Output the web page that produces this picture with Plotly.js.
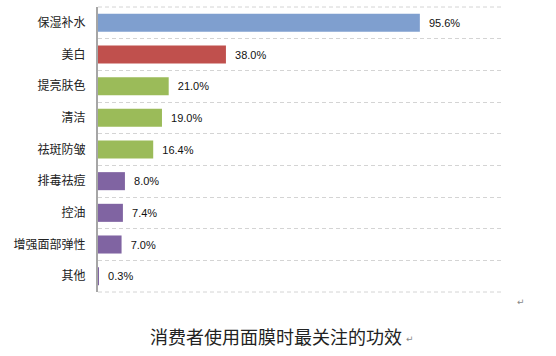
<!DOCTYPE html>
<html>
<head>
<meta charset="utf-8">
<script src="https://cdn.plot.ly/plotly-3.0.1.min.js"></script>
<style>
html,body{margin:0;padding:0;background:#fff;}
#chart{width:556px;height:356px;}
</style>
</head>
<body>
<div id="chart"></div>
<script>
const categories = ["保湿补水","美白","提亮肤色","清洁","祛斑防皱","排毒祛痘","控油","增强面部弹性","其他"];
const values = [95.6, 38.0, 21.0, 19.0, 16.4, 8.0, 7.4, 7.0, 0.3];
const labels = ["95.6%","38.0%","21.0%","19.0%","16.4%","8.0%","7.4%","7.0%","0.3%"];
const barColors = ["#7F9FCF","#C0504D","#9BBB59","#9BBB59","#9BBB59","#8064A2","#8064A2","#8064A2","#8064A2"];
const titleText = "消费者使用面膜时最关注的功效";

const trace = {
  type: "bar",
  orientation: "h",
  y: categories,
  x: values,
  text: labels.map(t => "\u00a0\u00a0" + t),
  textposition: "outside",
  cliponaxis: false,
  textfont: {family: "Liberation Sans, Arial, sans-serif", size: 11, color: "#111"},
  marker: {color: barColors},
  hoverinfo: "skip"
};

const gridDash = "4px,3px";
const layout = {
  width: 556, height: 356,
  margin: {l: 98, r: 54, t: 7, b: 64},
  paper_bgcolor: "#fff",
  plot_bgcolor: "#fff",
  bargap: 0.43,
  showlegend: false,
  xaxis: {
    range: [0, 120],
    showgrid: false, zeroline: false, showticklabels: false, showline: false, ticks: ""
  },
  yaxis: {
    type: "category",
    autorange: "reversed",
    tickson: "boundaries",
    showgrid: true,
    gridcolor: "#d4d4d4",
    griddash: gridDash,
    gridwidth: 1,
    showline: true,
    linecolor: "#a6a6a6",
    linewidth: 2,
    ticks: "",
    ticklabelstandoff: 8,
    tickfont: {family: "Noto Sans CJK SC, sans-serif", size: 12, color: "#222"}
  },
  shapes: [
    {type: "line", xref: "paper", yref: "paper", x0: 0, x1: 1, y0: 1, y1: 1,
     line: {color: "#d4d4d4", width: 1, dash: gridDash}, layer: "below"},
    {type: "line", xref: "paper", yref: "paper", x0: 0, x1: 1, y0: 0, y1: 0,
     line: {color: "#d4d4d4", width: 1, dash: gridDash}, layer: "below"}
  ],
  annotations: [
    {
      xref: "paper", yref: "paper",
      x: (276 - 98) / 404, y: (292 - 336) / 285,
      text: titleText,
      showarrow: false,
      xanchor: "center", yanchor: "middle",
      font: {family: "Noto Sans CJK SC, sans-serif", size: 18, color: "#222"}
    },
    {
      xref: "paper", yref: "paper", x: (404 - 98) / 404, y: (292 - 339) / 285,
      text: "↵", showarrow: false, xanchor: "left", yanchor: "middle",
      font: {family: "DejaVu Sans, sans-serif", size: 9, color: "#888"}
    },
    {
      xref: "paper", yref: "paper", x: (521 - 98) / 404, y: (292 - 302) / 285,
      text: "↵", showarrow: false, xanchor: "center", yanchor: "middle",
      font: {family: "DejaVu Sans, sans-serif", size: 9, color: "#888"}
    }
  ]
};

Plotly.newPlot("chart", [trace], layout, {staticPlot: true, displayModeBar: false});
</script>
</body>
</html>
